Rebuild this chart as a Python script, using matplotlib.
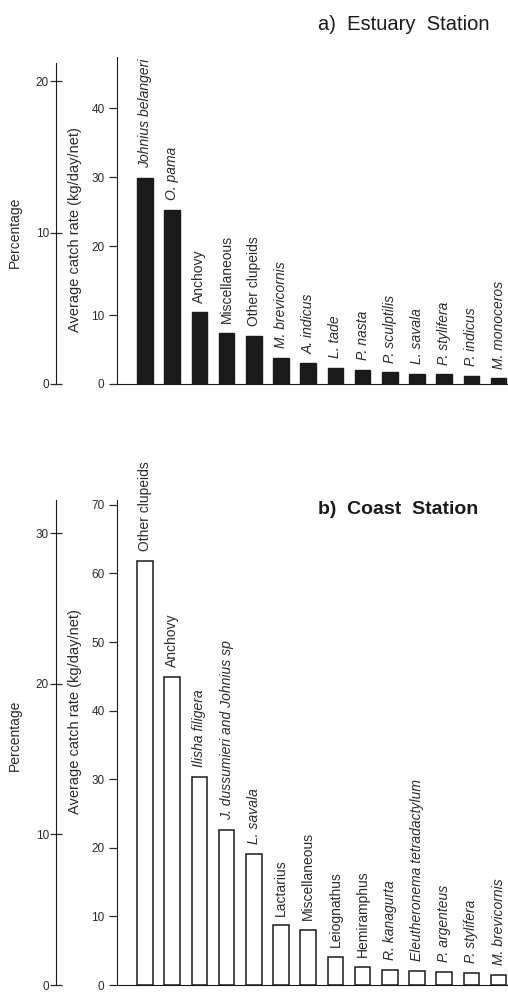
import matplotlib.pyplot as plt
import numpy as np

plt.rcParams['font.family'] = ['Liberation Sans', 'DejaVu Sans']

# a) Estuary station - average catch rate (kg/day/net)
estuary_species = ["Johnius belangeri", "O. pama", "Anchovy", "Miscellaneous",
                   "Other clupeids", "M. brevicornis", "A. indicus", "L. tade",
                   "P. nasta", "P. sculptilis", "L. savala", "P. stylifera",
                   "P. indicus", "M. monoceros"]
estuary_catch = [29.9, 25.2, 10.4, 7.4, 7.0, 3.8, 3.0, 2.3, 2.0, 1.7, 1.5, 1.4, 1.2, 0.8]

# b) Coast station
coast_species = ["Other clupeids", "Anchovy", "Ilisha filigera",
                 "J. dussumieri and Johnius sp", "L. savala", "Lactarius",
                 "Miscellaneous", "Leiognathus", "Hemiramphus", "R. kanagurta",
                 "Eleutheronema tetradactylum", "P. argenteus", "P. stylifera",
                 "M. brevicornis"]
coast_catch = [61.8, 44.9, 30.3, 22.6, 19.1, 8.7, 8.0, 4.1, 2.6, 2.2, 2.1, 1.9, 1.8, 1.5]

common_names = ["Anchovy", "Miscellaneous", "Other clupeids", "Lactarius", "Leiognathus", "Hemiramphus"]

W, H = 508, 993
fig = plt.figure(figsize=(W / 100, H / 100), dpi=100)

ink = '#1a1a1a'
txt = '#2a2a2a'


def fx(px):
    return px / W


def fy(py):
    return 1 - py / H


def panel(base_px, top_px, cmax, pct_top_px, pctmax, cat_ticks, pct_ticks,
          species, catch, filled, lab_y_pct, lab_y_cat):
    # inner axis (catch rate)
    left, right = 117, 508
    ax = fig.add_axes([fx(left), fy(base_px), fx(right - left), fy(top_px) - fy(base_px)])
    x = np.arange(len(species))
    step = 27.2
    ax.set_xlim((left - 145) / step, (right - 145) / step)
    ax.set_ylim(0, cmax)
    if filled:
        ax.bar(x, catch, width=0.57, color=ink, edgecolor=ink)
    else:
        ax.bar(x, catch, width=0.57, color='white', edgecolor=ink, linewidth=1.1)
    for xi, v, s in zip(x, catch, species):
        ax.annotate(s, (xi, v), xytext=(0, 7), textcoords='offset points',
                    rotation=90, ha='center', va='bottom', fontsize=10, color=txt,
                    style='normal' if s in common_names else 'italic')
    ax.set_xticks([])
    ax.set_yticks(cat_ticks)
    ax.tick_params(axis='y', direction='out', length=6, width=0.9, labelsize=8.5,
                   pad=3, colors=txt)
    for sp in ['top', 'right']:
        ax.spines[sp].set_visible(False)
    ax.spines['left'].set_color(ink)
    ax.spines['bottom'].set_color(ink)

    # outer axis (percentage)
    pax = fig.add_axes([fx(56), fy(base_px), 0.001, fy(pct_top_px) - fy(base_px)])
    pax.set_ylim(0, pctmax)
    pax.set_xticks([])
    pax.set_yticks(pct_ticks)
    pax.tick_params(axis='y', direction='inout', length=8, width=0.9, labelsize=8.5,
                    pad=1, colors=txt)
    for sp in ['top', 'right', 'bottom']:
        pax.spines[sp].set_visible(False)
    pax.spines['left'].set_color(ink)
    pax.patch.set_visible(False)

    fig.text(fx(15), fy(lab_y_pct), "Percentage", rotation=90, ha='center', va='center',
             fontsize=10, color=txt)
    fig.text(fx(75), fy(lab_y_cat), "Average catch rate (kg/day/net)", rotation=90,
             ha='center', va='center', fontsize=10.5, color=txt)


panel(384, 57, 47.4, 63, 21.2, [0, 10, 20, 30, 40], [0, 10, 20],
      estuary_species, estuary_catch, True, 232, 230)
panel(985, 500, 70.7, 500, 32.2, [0, 10, 20, 30, 40, 50, 60, 70], [0, 10, 20, 30],
      coast_species, coast_catch, False, 735, 712)

fig.text(fx(318), fy(25), "a)  Estuary  Station", ha='left', va='center', color=ink,
         fontsize=14.5)
fig.text(fx(318), fy(510), "b)  Coast  Station", ha='left', va='center', color=ink,
         fontsize=14, fontweight='bold')

fig.savefig("out.png", dpi=100)
